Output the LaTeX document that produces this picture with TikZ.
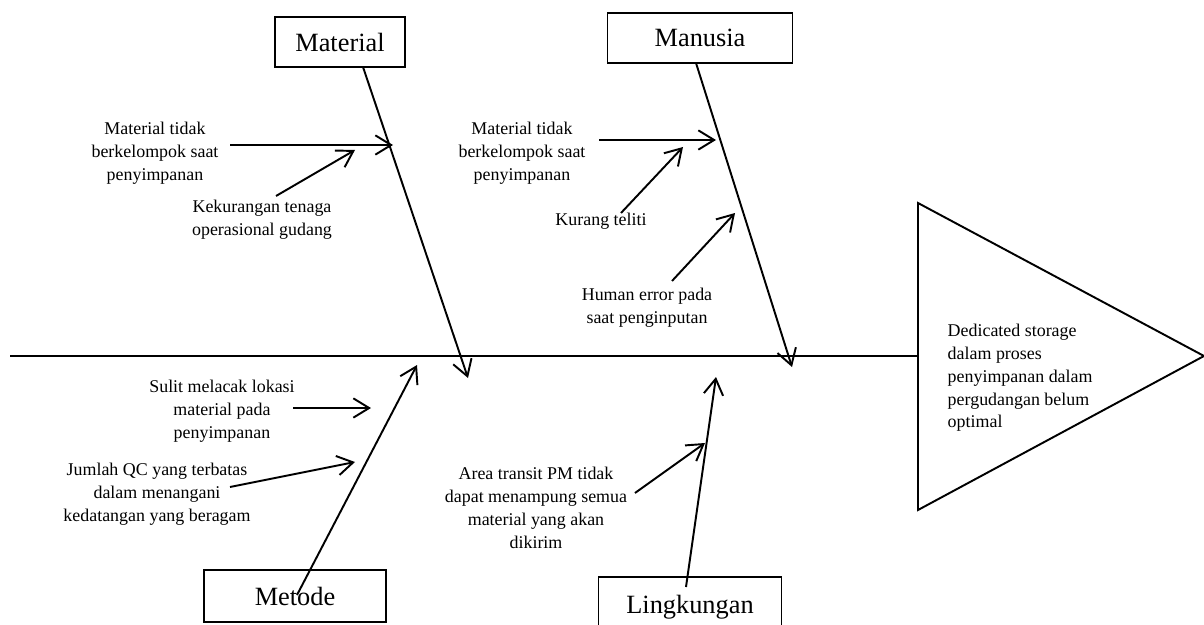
\documentclass[tikz,border=0pt]{standalone}
\usepackage{fontspec}
\setmainfont{Liberation Serif}
\usepackage{tikz}
\usetikzlibrary{
    arrows.meta,
    calc,
    positioning,
    shapes.geometric
}
\tikzset{
    every picture/.style = {
        > = {Straight Barb[length = 9pt, width = 11pt]},
        line width = 1.1pt
    },
    category/.style = {
        draw,
        rectangle,
        minimum height = 1cm,
        inner sep = 2pt,
        font = {\fontsize{15}{18}\selectfont}
    },
    cause/.style = {
        align = center,
        inner sep = 1pt,
        font = {\fontsize{10.2}{13}\selectfont}
    }
}

\begin{document}
\begin{tikzpicture}[x = 0.02cm, y = -0.02cm]
    \useasboundingbox (0,0) rectangle (1204,625);

    % head and spine
    \coordinate (tailend) at (10,356);
    \coordinate (headtop) at (918,203);
    \coordinate (headtip) at (1204,356);
    \coordinate (headbot) at (918,510);
    \coordinate (headmid) at (918,356);
    \draw (headtop) -- (headtip) -- (headbot) -- cycle;
    \draw (tailend) -- (headmid);
    \node[cause, align = left, anchor = west] (problem) at (945,378)
        {Dedicated storage\\dalam proses\\penyimpanan dalam\\pergudangan belum\\optimal};

    % categories
    \node[category, minimum width = 2.6cm] (material) at (340,42) {Material};
    \node[category, minimum width = 3.7cm] (manusia) at (700,38) {Manusia};
    \node[category, minimum width = 3.64cm, minimum height = 1.04cm] (metode) at (295,596) {Metode};
    \node[category, minimum width = 3.66cm, minimum height = 1.2cm] (lingkungan) at (690,607) {Lingkungan};

    % bones
    \coordinate (matstart) at (363,67);
    \coordinate (mattip) at (468,378);
    \coordinate (manstart) at (696,63);
    \coordinate (mantip) at (792,367);
    \coordinate (metstart) at (297,595);
    \coordinate (mettip) at (417,365);
    \coordinate (lingstart) at (686,587);
    \coordinate (lingtip) at (716,377);
    \path[->] (matstart) edge (mattip);
    \path[->] (manstart) edge (mantip);
    \path[->] (metstart) edge (mettip);
    \path[->] (lingstart) edge (lingtip);

    % material causes
    \node[cause] (mat1) at (155,153) {Material tidak\\berkelompok saat\\penyimpanan};
    \node[cause] (mat2) at (262,220) {Kekurangan tenaga\\operasional gudang};
    \coordinate (mat1s) at (230,145);
    \coordinate (mat1e) at (393,145);
    \coordinate (mat2s) at (276,196);
    \coordinate (mat2e) at (355,150);
    \path[->] (mat1s) edge (mat1e);
    \path[->] (mat2s) edge (mat2e);

    % manusia causes
    \node[cause] (man1) at (522,153) {Material tidak\\berkelompok saat\\penyimpanan};
    \node[cause] (man2) at (601,221) {Kurang teliti};
    \node[cause] (man3) at (647,308) {Human error pada\\saat penginputan};
    \coordinate (man1s) at (599,140);
    \coordinate (man1e) at (716,140);
    \coordinate (man2s) at (621,213);
    \coordinate (man2e) at (683,147);
    \coordinate (man3s) at (672,281);
    \coordinate (man3e) at (735,213);
    \path[->] (man1s) edge (man1e);
    \path[->] (man2s) edge (man2e);
    \path[->] (man3s) edge (man3e);

    % metode causes
    \node[cause] (met1) at (222,411) {Sulit melacak lokasi\\material pada\\penyimpanan};
    \node[cause] (met2) at (157,494) {Jumlah QC yang terbatas\\dalam menangani\\kedatangan yang beragam};
    \coordinate (met1s) at (293,408);
    \coordinate (met1e) at (371,408);
    \coordinate (met2s) at (230,487);
    \coordinate (met2e) at (355,462);
    \path[->] (met1s) edge (met1e);
    \path[->] (met2s) edge (met2e);

    % lingkungan causes
    \node[cause] (ling1) at (536,508) {Area transit PM tidak\\dapat menampung semua\\material yang akan\\dikirim};
    \coordinate (ling1s) at (635,493);
    \coordinate (ling1e) at (705,443);
    \path[->] (ling1s) edge (ling1e);
\end{tikzpicture}
\end{document}
